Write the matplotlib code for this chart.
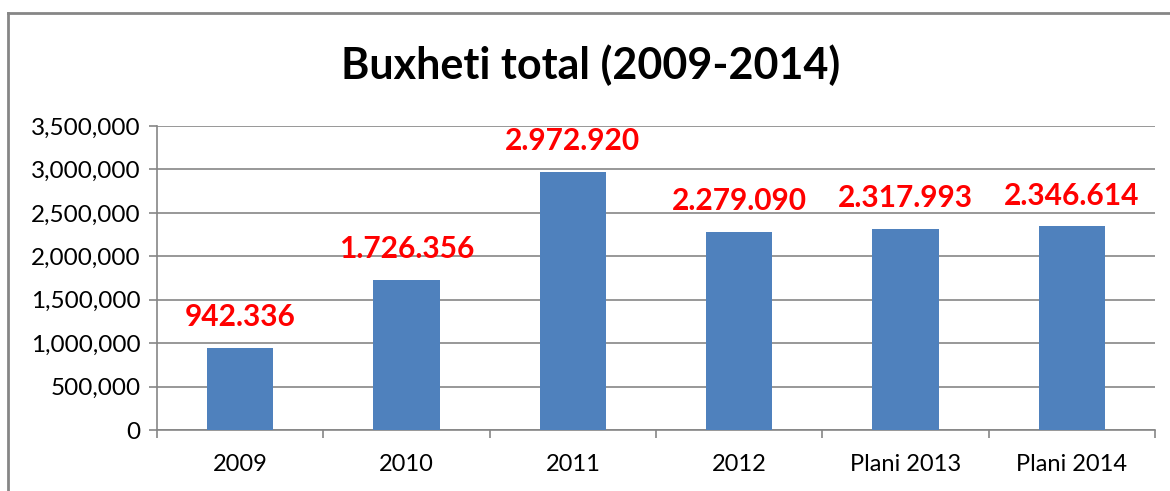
import matplotlib.pyplot as plt
from matplotlib.lines import Line2D
from matplotlib.ticker import FuncFormatter

# Data
years = ['2009', '2010', '2011', '2012', 'Plani 2013', 'Plani 2014']
budget = [942336, 1726356, 2972920, 2279090, 2317993, 2346614]
y_ticks = [0, 500000, 1000000, 1500000, 2000000, 2500000, 3000000, 3500000]

plt.rcParams['font.family'] = ['Lato', 'DejaVu Sans']

grey = '#868686'

fig = plt.figure(figsize=(11.7, 4.91), dpi=100)
ax = fig.add_axes([0.1342, 0.1242, 0.853, 0.6192])

x = list(range(len(years)))
ax.bar(x, budget, width=0.4, color='#4F81BD', zorder=3)

# Value labels above bars
for xi, v in zip(x, budget):
    ax.annotate(f"{v:,}".replace(",", "."), (xi, v), xytext=(0, 12),
                textcoords='offset points', ha='center', va='bottom',
                color='#FF0000', fontsize=21.5, fontweight='bold')

ax.set_xlim(-0.5, len(years) - 0.5)
ax.set_ylim(0, 3500000)
ax.set_yticks(y_ticks)
ax.yaxis.set_major_formatter(FuncFormatter(lambda v, p: f"{v:,.0f}"))
ax.yaxis.grid(True, color=grey, linewidth=1.2, zorder=0)

# Category labels, boundary tick marks
ax.set_xticks(x)
ax.set_xticklabels(years)
ax.set_xticks([i - 0.5 for i in range(len(years) + 1)], minor=True)
ax.tick_params(axis='x', which='major', length=0, pad=17, labelsize=17)
ax.tick_params(axis='x', which='minor', length=6, color=grey, width=1.2)
ax.tick_params(axis='y', length=6, color=grey, width=1.2, labelsize=17.5, pad=6)

for s in ['top', 'right']:
    ax.spines[s].set_visible(False)
for s in ['left', 'bottom']:
    ax.spines[s].set_color(grey)
    ax.spines[s].set_linewidth(1.2)

fig.text(0.505, 0.868, 'Buxheti total (2009-2014)', ha='center', va='center',
         fontsize=31, fontweight='bold')

# Chart area border (left and top only visible)
fig.add_artist(Line2D([8 / 1170, 8 / 1170], [0, 1 - 13 / 491], color=grey, linewidth=2, transform=fig.transFigure))
fig.add_artist(Line2D([8 / 1170, 1], [1 - 13 / 491, 1 - 13 / 491], color=grey, linewidth=2, transform=fig.transFigure))

fig.savefig('out.png', dpi=100)
